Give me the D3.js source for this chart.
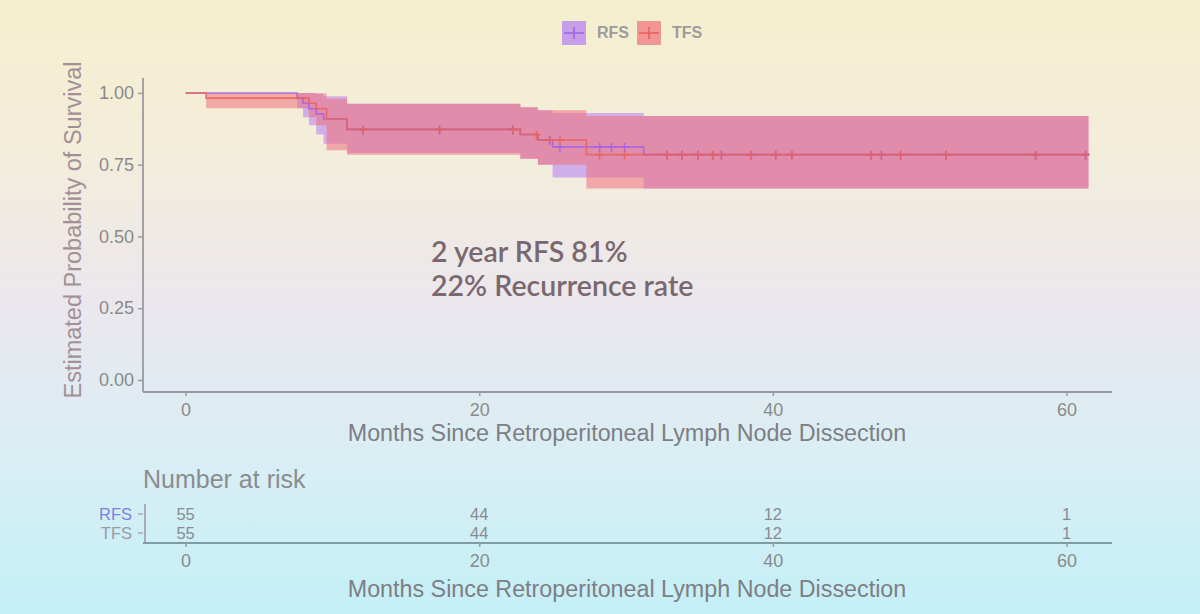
<!DOCTYPE html>
<html><head><meta charset="utf-8">
<script src="https://cdn.jsdelivr.net/npm/d3@7"></script>
<style>html,body{margin:0;padding:0;}svg{display:block;}</style>
</head><body>
<svg id="c" width="1200" height="614"></svg>
<script>
// ---------- data ----------
const seriesNames = ["RFS", "TFS"];
const rfsTime  = [0, 7.6, 8.0, 8.4, 8.9, 9.4, 11.0, 22.8, 24.0, 25.0, 31.2, 61.5];
const rfsSurv  = [1, .982, .964, .945, .927, .909, .873, .855, .836, .812, .785, .785];
const rfsLower = [1, .947, .915, .887, .855, .823, .791, .771, .750, .705, .667, .667];
const rfsUpper = [1, 1, 1, 1, .998, .988, .962, .950, .940, .930, .920, .920];
const tfsTime  = [0, 1.4, 8.4, 8.9, 9.6, 11.0, 22.8, 24.0, 27.3, 61.5];
const tfsSurv  = [1, .982, .964, .945, .909, .873, .855, .836, .785, .785];
const tfsLower = [1, .947, .915, .887, .800, .785, .771, .750, .667, .667];
const tfsUpper = [1, 1, 1, .998, .980, .962, .950, .940, .920, .920];
const rfsCensor = [12.1, 17.3, 22.3, 24.8, 25.5, 28.2, 29.0, 29.9, 32.8, 33.8, 34.9, 35.9, 36.5, 38.5, 40.2, 41.3, 46.7, 47.4, 48.7, 51.8, 57.9, 61.3];
const tfsCensor = [12.1, 17.3, 22.3, 23.9, 24.8, 25.5, 28.2, 29.9, 32.8, 33.8, 34.9, 35.9, 36.5, 38.5, 40.2, 41.3, 46.7, 47.4, 48.7, 51.8, 57.9, 61.3];
const xTicks = [0, 20, 40, 60];
const yTicks = [0, 0.25, 0.5, 0.75, 1.0];
const riskRFS = [55, 44, 12, 1];
const riskTFS = [55, 44, 12, 1];
const annotation = ["2 year RFS 81%", "22% Recurrence rate"];

// ---------- setup ----------
const svg = d3.select("#c");
const defs = svg.append("defs");
const g = defs.append("linearGradient").attr("id","bg").attr("x1",0).attr("x2",0).attr("y1",0).attr("y2",1);
g.append("stop").attr("offset","0%").attr("stop-color","#f5efcf");
g.append("stop").attr("offset","25%").attr("stop-color","#f3eddb");
g.append("stop").attr("offset","50%").attr("stop-color","#ebe7ee");
g.append("stop").attr("offset","75%").attr("stop-color","#d8eff4");
g.append("stop").attr("offset","100%").attr("stop-color","#c4eff7");
svg.append("rect").attr("width",1200).attr("height",614).attr("fill","url(#bg)");

const colors = {RFS: "#a063e6", TFS: "#e8625a"};
const fills = {RFS: "#b47cf2", TFS: "#f0707a"};
const axisCol = "#9a9aa0";
const textCol = "#8a8a8a";
const font = "'Liberation Sans', Arial, sans-serif";

const x = d3.scaleLinear().domain([-2.9, 63.1]).range([143, 1112]);
const y = d3.scaleLinear().domain([-0.042, 1.052]).range([392, 78]);

const series = [
  {name:"RFS", t:rfsTime, s:rfsSurv, lo:rfsLower, hi:rfsUpper, c:rfsCensor},
  {name:"TFS", t:tfsTime, s:tfsSurv, lo:tfsLower, hi:tfsUpper, c:tfsCensor}
];

const area = d3.area().curve(d3.curveStepAfter)
  .x(d=>x(d.t)).y0(d=>y(d.lo)).y1(d=>y(d.hi));
const line = d3.line().curve(d3.curveStepAfter).x(d=>x(d.t)).y(d=>y(d.s));

series.forEach(sr=>{
  const pts = sr.t.map((t,i)=>({t, s:sr.s[i], lo:sr.lo[i], hi:sr.hi[i]}));
  sr.pts = pts;
  svg.append("path").attr("d",area(pts)).attr("fill",fills[sr.name]).attr("fill-opacity",0.55);
});
series.forEach(sr=>{
  svg.append("path").attr("d",line(sr.pts)).attr("fill","none")
    .attr("stroke",colors[sr.name]).attr("stroke-width",1.6).attr("stroke-opacity",0.85);
  const survAt = t => { let v = sr.s[0]; sr.t.forEach((tt,i)=>{ if (tt<=t) v = sr.s[i]; }); return v; };
  sr.c.forEach(ct=>{
    const cx = x(ct), cy = y(survAt(ct));
    svg.append("path").attr("d",`M${cx-4},${cy}H${cx+4}M${cx},${cy-4}V${cy+5}`)
      .attr("stroke",colors[sr.name]).attr("stroke-width",1.6).attr("stroke-opacity",0.8);
  });
});

// ---------- axes ----------
const yAxis = d3.axisLeft(y).tickValues(yTicks).tickFormat(d3.format(".2f")).tickSize(5).tickPadding(4);
const ya = svg.append("g").attr("transform","translate(143,0)").call(yAxis);
const xAxis = d3.axisBottom(x).tickValues(xTicks).tickSize(4).tickPadding(7);
const xa = svg.append("g").attr("transform","translate(0,392)").call(xAxis);
[ya, xa].forEach(a=>{
  a.select(".domain").attr("stroke",axisCol).attr("stroke-width",1.8);
  a.selectAll(".tick line").attr("stroke",axisCol).attr("stroke-width",1.5);
  a.selectAll(".tick text").attr("fill",textCol).attr("font-size",18).attr("font-family",font);
});
ya.select(".domain").attr("d","M0,78V392");
xa.select(".domain").attr("d","M143,0H1112");

svg.append("text").attr("transform","translate(81,230) rotate(-90)")
  .attr("text-anchor","middle").attr("font-family",font).attr("font-size",23.5)
  .attr("fill","#a39096").text("Estimated Probability of Survival");
svg.append("text").attr("x",627).attr("y",441).attr("text-anchor","middle")
  .attr("font-family",font).attr("font-size",23.3).attr("fill","#7e7e84")
  .text("Months Since Retroperitoneal Lymph Node Dissection");

// ---------- annotation ----------
annotation.forEach((t,i)=>{
  svg.append("text").attr("x",431).attr("y",262+i*34)
    .attr("font-family","Lato, 'Open Sans', sans-serif").attr("font-weight",600)
    .attr("font-size",28.5).attr("fill","#7a6870").text(t);
});

// ---------- legend ----------
const leg = svg.append("g");
[["RFS",562,597],["TFS",637,672]].forEach(([n,kx,tx])=>{
  leg.append("rect").attr("x",kx).attr("y",21).attr("width",24).attr("height",24)
    .attr("fill",fills[n]).attr("fill-opacity",0.7);
  leg.append("path").attr("d",`M${kx+2},33H${kx+22}M${kx+12},27V39`)
    .attr("stroke",colors[n]).attr("stroke-width",1.6);
  leg.append("text").attr("x",tx).attr("y",38).attr("font-family",font)
    .attr("font-weight",700).attr("font-size",16).attr("fill","#9c9c9c").text(n);
});

// ---------- risk table ----------
svg.append("text").attr("x",143).attr("y",488).attr("font-family",font)
  .attr("font-size",25).attr("fill","#8c8c90").text("Number at risk");
const rowY = {RFS:514, TFS:533};
const rowCol = {RFS:"#7f7fe0", TFS:"#9c9aa8"};
const riskData = {RFS:riskRFS, TFS:riskTFS};
seriesNames.forEach(n=>{
  svg.append("text").attr("x",132).attr("y",rowY[n]+6).attr("text-anchor","end")
    .attr("font-family",font).attr("font-size",16.5).attr("fill",rowCol[n]).text(n);
  svg.append("line").attr("x1",138).attr("x2",143).attr("y1",rowY[n]).attr("y2",rowY[n])
    .attr("stroke",axisCol).attr("stroke-width",1.2);
  riskData[n].forEach((v,i)=>{
    svg.append("text").attr("x",x(xTicks[i])).attr("y",rowY[n]+6).attr("text-anchor","middle")
      .attr("font-family",font).attr("font-size",16.5).attr("fill","#8a8a90").text(v);
  });
});
svg.append("line").attr("x1",145).attr("x2",145).attr("y1",504).attr("y2",543)
  .attr("stroke",axisCol).attr("stroke-width",1.5);
const xa2 = svg.append("g").attr("transform","translate(0,543)").call(d3.axisBottom(x).tickValues(xTicks).tickSize(4).tickPadding(7));
xa2.select(".domain").attr("d","M143,0H1112").attr("stroke","#7f9ca4").attr("stroke-width",1.8);
xa2.selectAll(".tick line").attr("stroke",axisCol).attr("stroke-width",1.5);
xa2.selectAll(".tick text").attr("fill",textCol).attr("font-size",18).attr("font-family",font);
svg.append("text").attr("x",627).attr("y",597).attr("text-anchor","middle")
  .attr("font-family",font).attr("font-size",23.3).attr("fill","#7e7e84")
  .text("Months Since Retroperitoneal Lymph Node Dissection");
</script>
</body></html>
